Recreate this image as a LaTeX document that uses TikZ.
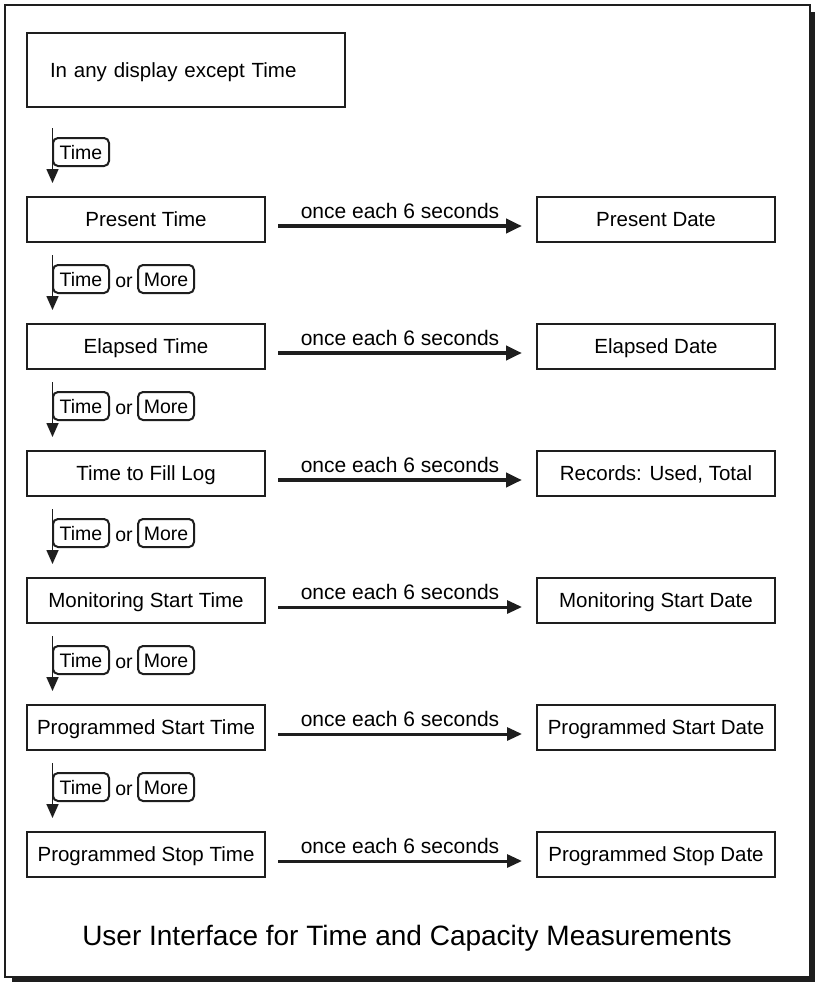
\documentclass[tikz,border=0pt]{standalone}
\usepackage{fontspec}
\setmainfont{Liberation Sans}
\usetikzlibrary{arrows.meta,calc}
\definecolor{ink}{HTML}{1E1E1E}
\begin{document}
\begin{tikzpicture}[x=1pt,y=-1pt,
  box/.style={draw=ink,line width=2pt,minimum width=238pt,minimum height=45pt,inner sep=0pt,
    font=\fontsize{20.5}{24}\selectfont,text height=14.7pt,text depth=0pt},
  keybox/.style={draw=ink,line width=2pt,rounded corners=5pt,minimum width=56pt,minimum height=28pt,
    inner sep=0pt,font=\fontsize{19.5}{22}\selectfont,text height=14pt,text depth=0pt},
  lbl/.style={font=\fontsize{21}{24}\selectfont,anchor=base,inner sep=0pt},
  fatarrow/.style={draw=ink,line width=4pt,-{Triangle[length=16pt,width=14pt]}},
  slimarrow/.style={draw=ink,line width=3pt,-{Triangle[length=15pt,width=13pt]}},
  downarrow/.style={draw=ink,line width=1.6pt,-{Triangle[length=14pt,width=12pt]}},
]
\useasboundingbox (0,0) rectangle (815,982);
% frame with shadow
\fill[ink] (12,12) rectangle (815,982);
\draw[ink,line width=1.5pt,fill=white] (5,5) rectangle (810,977);

% start box
\node[draw=ink,line width=2pt,minimum width=318pt,minimum height=74pt,text width=272pt,
  inner xsep=23pt,inner ysep=0pt,align=left,font=\fontsize{20.5}{24}\selectfont,
  text height=14.7pt,text depth=0pt] (start) at (186,70) {In any display except Time};

% rows
\foreach \i/\L/\R/\sty in {0/Present Time/Present Date/fatarrow,
  1/Elapsed Time/Elapsed Date/fatarrow,
  2/Time to Fill Log/{Records: Used, Total}/fatarrow,
  3/Monitoring Start Time/Monitoring Start Date/slimarrow,
  4/Programmed Start Time/Programmed Start Date/slimarrow,
  5/Programmed Stop Time/Programmed Stop Date/slimarrow}{
  \pgfmathsetmacro\cy{219.5+127*\i}
  \node[box] (L\i) at (146,\cy) {\L};
  \node[box] (R\i) at (656,\cy) {\R};
  \draw[\sty,shorten <=12pt,shorten >=14pt] ([yshift=-6.5pt]L\i.east) -- ([yshift=-6.5pt]R\i.west);
  \node[lbl] (T\i) at (400,\cy-1.5) {once each 6 seconds};
}

% vertical key arrows
\foreach \k in {0,...,5}{
  \pgfmathsetmacro\N{197+127*\k}
  \coordinate (s\k) at (52.5,\N-69);
  \coordinate (e\k) at (52.5,\N-14);
  \draw[downarrow] (s\k) -- (e\k);
  \node[keybox] (kt\k) at (81,\N-45) {Time};
}
\foreach \k in {1,...,5}{
  \pgfmathsetmacro\N{197+127*\k}
  \node[lbl,font=\fontsize{19.5}{22}\selectfont] (or\k) at (124,\N-37) {or};
  \node[keybox] (km\k) at (166,\N-45) {More};
}

% title
\node[font=\fontsize{28}{32}\selectfont,anchor=base,inner sep=0pt] (title) at (407,945)
  {User Interface for Time and Capacity Measurements};
\end{tikzpicture}
\end{document}
